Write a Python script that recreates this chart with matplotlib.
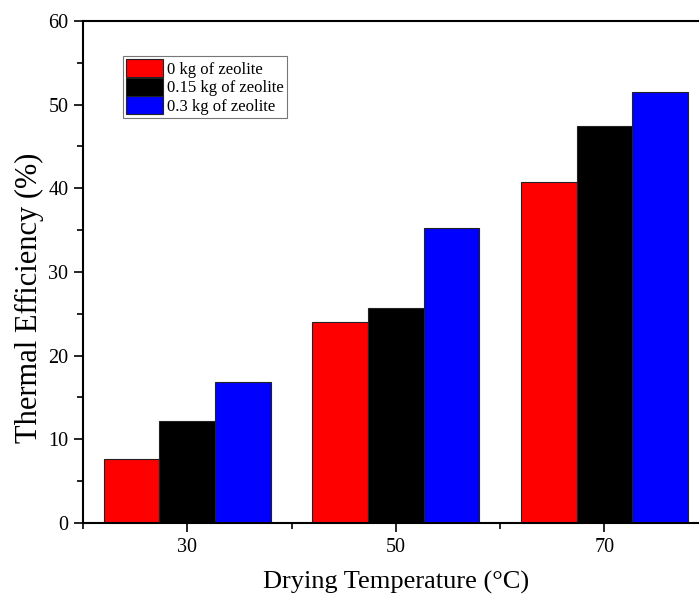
import numpy as np
import matplotlib
matplotlib.use("Agg")
from matplotlib import pyplot as plt
from matplotlib.ticker import MultipleLocator

# datos
temps = [30, 50, 70]
series = ["0 kg of zeolite", "0.15 kg of zeolite", "0.3 kg of zeolite"]
eff_0 = [7.7, 12.2, 16.9]
eff_015 = [24.0, 25.7, 35.3]
eff_03 = [40.8, 47.5, 51.5]
# reorganizar por serie
red_vals = [eff_0[0], eff_015[0], eff_03[0]]
black_vals = [eff_0[1], eff_015[1], eff_03[1]]
blue_vals = [eff_0[2], eff_015[2], eff_03[2]]
colores = ["#ff0000", "#000000", "#0000ff"]

plt.rcParams['font.family'] = ['Liberation Serif', 'DejaVu Serif']

fig = plt.figure(figsize=(6.99, 6.03), dpi=100)
ax = fig.add_axes([0.1187, 0.1327, 0.895, 0.8325])

ancho = 16 / 3
x = np.array(temps, dtype=float)
for i, (vals, c, lab) in enumerate(zip([red_vals, black_vals, blue_vals], colores, series)):
    ax.bar(x + (i - 1) * ancho, vals, width=ancho, color=c, edgecolor="#222222",
           linewidth=0.8, label=lab)

ax.set_xlim(20, 80)
ax.set_ylim(0, 60)
ax.set_xticks(temps)
ax.xaxis.set_minor_locator(MultipleLocator(20))
ax.yaxis.set_major_locator(MultipleLocator(10))
ax.yaxis.set_minor_locator(MultipleLocator(5))
ax.tick_params(which="major", direction="out", length=6.5, width=1.2, labelsize=14.5, pad=4)
ax.tick_params(which="minor", direction="out", length=4, width=1.2)
ax.spines["right"].set_visible(False)
for s in ["left", "bottom", "top"]:
    ax.spines[s].set_linewidth(1.5)

ax.set_xlabel("Drying Temperature (\u00b0C)", fontsize=19, labelpad=10)
ax.set_ylabel("Thermal Efficiency (%)", fontsize=22)
ax.yaxis.set_label_coords(-0.062, 0.449)

leg = ax.legend(loc="upper left", bbox_to_anchor=(0.0635, 0.931), fontsize=12,
                frameon=True, fancybox=False, edgecolor="#555555",
                handlelength=2.2, handleheight=1.3, handletextpad=0.28,
                borderpad=0.2, labelspacing=0.0, borderaxespad=0)
leg.get_frame().set_linewidth(0.8)

fig.savefig("out.png", dpi=100)
